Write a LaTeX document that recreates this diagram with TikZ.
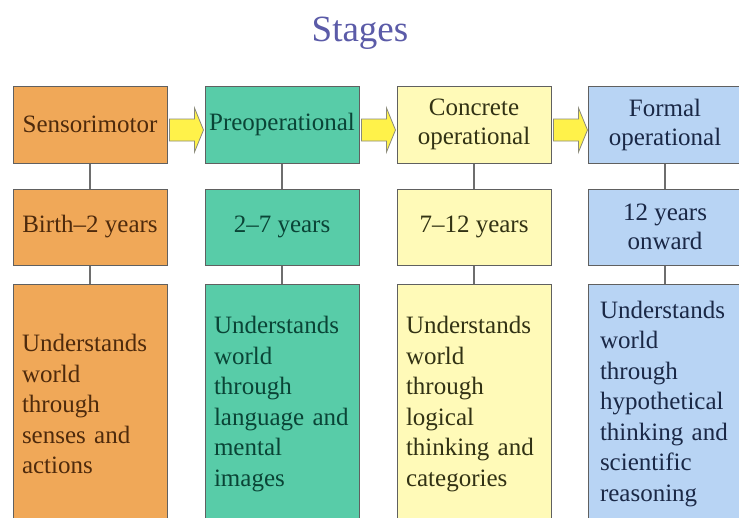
\documentclass[tikz,border=0pt]{standalone}
\usepackage{fontspec}
\setmainfont{Liberation Serif}[Ligatures=TeX]
\newfontfamily\timesfont{Liberation Serif}[Ligatures=TeX]
\usetikzlibrary{calc}
\definecolor{orfill}{HTML}{F0A858}
\definecolor{grfill}{HTML}{58CCA8}
\definecolor{yefill}{HTML}{FFFAB8}
\definecolor{blfill}{HTML}{B8D4F4}
\definecolor{ortext}{HTML}{4E2A0C}
\definecolor{grtext}{HTML}{0A4436}
\definecolor{yetext}{HTML}{323214}
\definecolor{bltext}{HTML}{1A2846}
\definecolor{boxborder}{HTML}{606060}
\definecolor{connline}{HTML}{6E6E6E}
\definecolor{arrfill}{HTML}{FFF24A}
\definecolor{arrborder}{HTML}{8A8A7A}
\definecolor{titlecol}{HTML}{5B5BA8}
\tikzset{
  stagebox/.style={draw=boxborder, line width=1pt, minimum width=154pt, inner sep=0pt, align=center,
    font=\timesfont\fontsize{25}{29}\selectfont},
  topbox/.style={stagebox, minimum height=77pt},
  agebox/.style={stagebox, minimum height=76pt},
  descbox/.style={draw=boxborder, line width=1pt, inner xsep=9pt, inner ysep=0pt, text width=136pt,
    align=left, minimum height=240pt, font=\timesfont\fontsize{25}{30.5}\selectfont},
  conn/.style={draw=connline, line width=1.5pt},
  blockarr/.style={draw=arrborder, fill=arrfill, line width=0.8pt, line join=miter},
  orcol/.style={fill=orfill, text=ortext},
  grcol/.style={fill=grfill, text=grtext},
  yecol/.style={fill=yefill, text=yetext},
  blcol/.style={fill=blfill, text=bltext},
}
\newcommand{\stagearrow}[1]{%
  \draw[blockarr] ($(#1.east)+(2,-5.5)$) -- ($(#1.east)+(27,-5.5)$) -- ($(#1.east)+(27,-16.5)$)
    -- ($(#1.east)+(36,5.5)$) -- ($(#1.east)+(27,27.5)$) -- ($(#1.east)+(27,16.5)$)
    -- ($(#1.east)+(2,16.5)$) -- cycle;}
\begin{document}
\begin{tikzpicture}[x=1pt,y=-1pt]
\useasboundingbox (0,0) rectangle (739,517);
\clip (0,0) rectangle (739,517);
\fill[white] (0,0) rectangle (739,517);

\node[text=titlecol, font=\timesfont\fontsize{37}{40}\selectfont] (title) at (360,33) {Stages};

% top boxes
\node[topbox, orcol] (s1) at (90,124.5) {Sensorimotor};
\node[topbox, grcol] (s2) at (282,124.5) {Preoperational};
\node[topbox, yecol] (s3) at (474,124.5) {Concrete\\operational};
\node[topbox, blcol] (s4) at (665,124.5) {Formal\\operational};

% age boxes
\node[agebox, orcol] (a1) at (90,227) {Birth\textendash 2 years};
\node[agebox, grcol] (a2) at (282,227) {2\textendash 7 years};
\node[agebox, yecol] (a3) at (474,227) {7\textendash 12 years};
\node[agebox, blcol] (a4) at (665,227) {12 years\\onward};

% description boxes
\node[descbox, orcol] (d1) at (90,404) {Understands\\world\\through\\senses and\\actions};
\node[descbox, grcol] (d2) at (282,404) {Understands\\world\\through\\language and\\mental\\images};
\node[descbox, yecol] (d3) at (474,404) {Understands\\world\\through\\logical\\thinking and\\categories};
\node[descbox, blcol, inner xsep=12pt, text width=130pt] (d4) at (665,404) {Understands\\world\\through\\hypothetical\\thinking and\\scientific\\reasoning};

% connectors
\foreach \i in {1,2,3,4} {
  \draw[conn] (s\i.south) -- (a\i.north);
  \draw[conn] (a\i.south) -- (d\i.north);
}

% block arrows
\stagearrow{s1}
\stagearrow{s2}
\stagearrow{s3}
\end{tikzpicture}
\end{document}
